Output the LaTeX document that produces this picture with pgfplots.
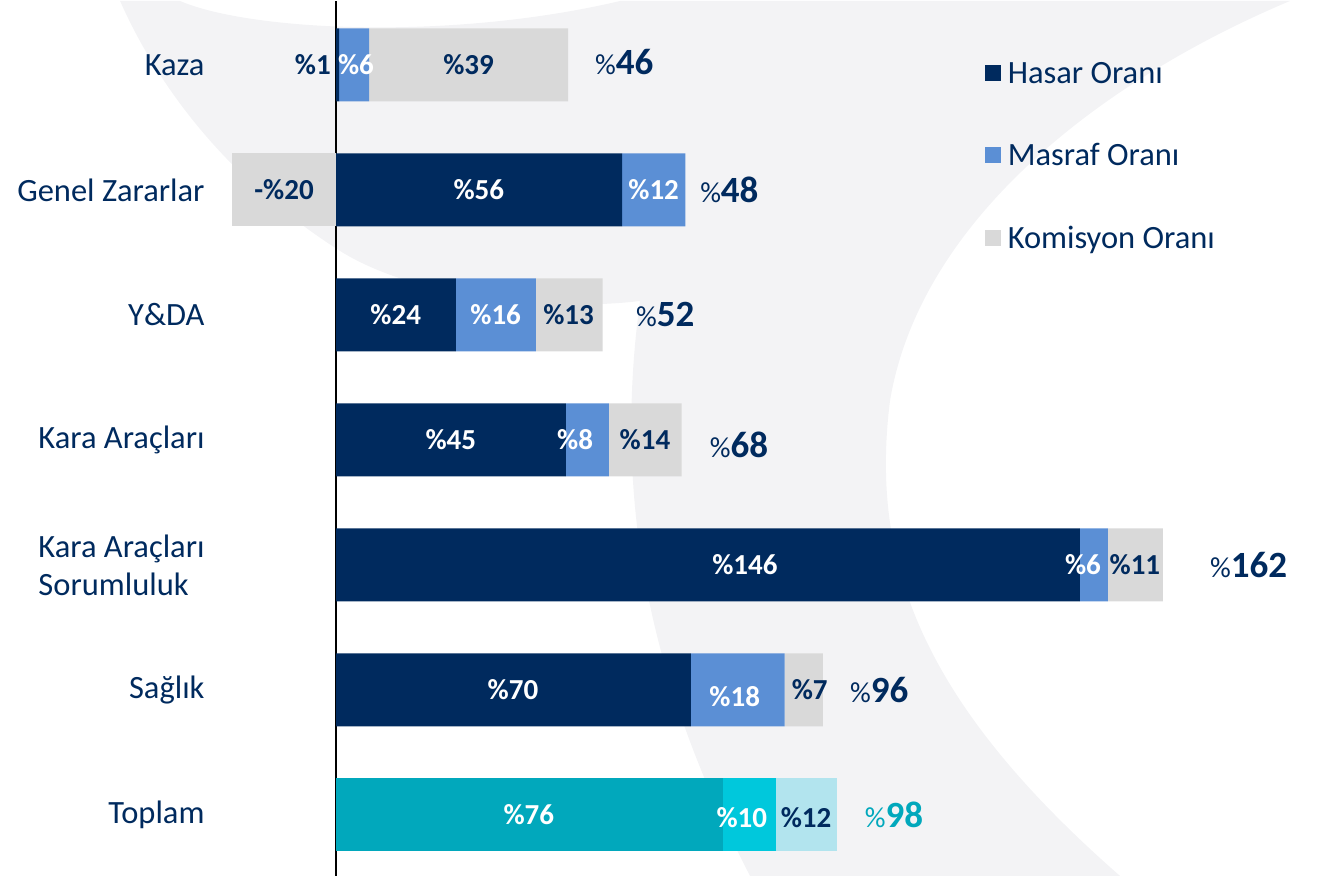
\documentclass[border=0pt]{standalone}
\usepackage{pgfplots}
\pgfplotsset{compat=1.18}
\usepackage{fontspec}
\setmainfont{Carlito}
\definecolor{navy}{RGB}{0,42,94}
\definecolor{mblue}{RGB}{91,143,213}
\definecolor{lgray}{RGB}{217,217,217}
\definecolor{teal1}{RGB}{1,168,188}
\definecolor{cyan1}{RGB}{0,200,220}
\definecolor{light1}{RGB}{178,228,238}
\definecolor{bgswoosh}{RGB}{243,243,245}
\newcommand\lbl{\fontsize{29}{30}\selectfont\bfseries}
\newcommand\bl[4]{\node[font=\lbl, text=#4, inner sep=0pt] at (axis cs:#1,#2) {\%#3};}
\newcommand\tl[4]{\node[anchor=west, inner sep=0pt, text=#4] at (axis cs:#1,#2) {\fontsize{29}{30}\selectfont\%\fontsize{37}{38}\selectfont\bfseries #3};}
\pgfplotsset{frame/.style={at={(0pt,0pt)}, anchor=south west,
  scale only axis, width=1317pt, height=875pt,
  xmin=-65.9, xmax=192.4, ymin=-0.512, ymax=6.488, y dir=reverse, clip=false}}
\begin{document}
\begin{tikzpicture}
% faint background swoosh (decoration)
\begin{scope}[x=1pt, y=-1pt, shift={(0pt,875pt)}]
\fill[bgswoosh] (120,0) -- (180,0) .. controls (250,30) and (450,40) .. (620,0) -- (1290,0)
  .. controls (1100,80) and (920,220) .. (890,400)
  .. controls (870,560) and (920,700) .. (1120,875) -- (750,875)
  .. controls (660,700) and (610,520) .. (640,300)
  .. controls (560,310) and (420,300) .. (340,250)
  .. controls (230,180) and (160,90) .. (120,0) -- cycle;
\end{scope}
\begin{axis}[
  frame,
  xbar stacked, bar width=73pt,
  axis line style={draw=none},
  major tick length=0pt,
  xtick=\empty,
  extra x ticks={0}, extra x tick labels={},
  extra x tick style={grid=major, major grid style={black, line width=2pt}},
  ytick={0,...,6},
  yticklabels={Kaza, Genel Zararlar, Y\&DA, Kara Araçları, {Kara Araçları\\Sorumluluk}, Sağlık, Toplam},
  yticklabel style={anchor=east, xshift=208pt, align=left, text=navy, font=\fontsize{32.5}{38}\selectfont},
  legend image code/.code={\fill[#1] (0pt,-8pt) rectangle (16pt,8pt);},
  legend cell align=left,
  legend style={at={(axis description cs:0.748,0.938)}, anchor=north west, draw=none, fill=none,
    font=\fontsize{32.5}{32.5}\selectfont, text=navy, row sep=46pt, inner sep=0pt,
    nodes={inner sep=6.5pt}},
]
\addlegendimage{fill=navy, draw=none}
\addlegendimage{fill=mblue, draw=none}
\addlegendimage{fill=lgray, draw=none}
\legend{Hasar Oranı, Masraf Oranı, Komisyon Oranı}
\addplot[fill=lgray, draw=none] coordinates {(0,0) (-20.4,1) (0,2) (0,3) (0,4) (0,5) (0,6)};
\addplot[fill=navy, draw=none] coordinates {(0.6,0) (56.1,1) (23.5,2) (45.1,3) (145.9,4) (69.6,5) (0,6)};
\addplot[fill=mblue, draw=none] coordinates {(5.9,0) (12.4,1) (15.7,2) (8.4,3) (5.5,4) (18.4,5) (0,6)};
\addplot[fill=lgray, draw=none] coordinates {(39.0,0) (0,1) (13.1,2) (14.3,3) (10.8,4) (7.5,5) (0,6)};
\addplot[fill=teal1, draw=none] coordinates {(0,0) (0,1) (0,2) (0,3) (0,4) (0,5) (75.9,6)};
\addplot[fill=cyan1, draw=none] coordinates {(0,0) (0,1) (0,2) (0,3) (0,4) (0,5) (10.4,6)};
\addplot[fill=light1, draw=none] coordinates {(0,0) (0,1) (0,2) (0,3) (0,4) (0,5) (12.0,6)};
\end{axis}
\begin{axis}[frame, hide axis]
\node[font=\lbl, text=navy, inner sep=0pt, anchor=east] at (axis cs:-1.0,0) {\%1};
\bl{3.9}{0}{6}{white}
\bl{26.0}{0}{39}{navy}
\tl{50.8}{-0.02}{46}{navy}
\node[font=\lbl, text=navy, inner sep=0pt] at (axis cs:-10.2,1) {-\%20};
\bl{28.0}{1}{56}{white}
\bl{62.3}{1}{12}{white}
\tl{71.4}{1}{48}{navy}
\bl{11.7}{2}{24}{white}
\bl{31.3}{2}{16}{white}
\bl{45.6}{2}{13}{navy}
\tl{58.8}{2}{52}{navy}
\bl{22.5}{3}{45}{white}
\bl{46.9}{3}{8}{white}
\bl{60.6}{3}{14}{navy}
\tl{73.3}{3.04}{68}{navy}
\bl{80.2}{4}{146}{white}
\bl{146.5}{4}{6}{white}
\bl{156.7}{4}{11}{navy}
\tl{171.4}{4}{162}{navy}
\bl{34.7}{5}{70}{white}
\bl{78.2}{5.05}{18}{white}
\bl{92.9}{5}{7}{navy}
\tl{100.8}{5}{96}{navy}
\bl{37.8}{6}{76}{white}
\bl{79.6}{6.02}{10}{white}
\bl{92.2}{6.02}{12}{navy}
\tl{103.7}{6}{98}{teal1}
\end{axis}
\end{tikzpicture}
\end{document}
